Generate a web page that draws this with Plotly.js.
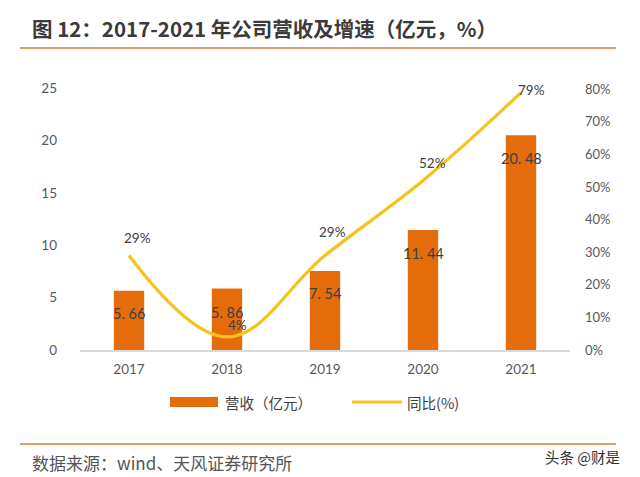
<!DOCTYPE html>
<html><head><meta charset="utf-8">
<script src="https://cdn.plot.ly/plotly-3.0.1.min.js"></script>
<style>html,body{margin:0;padding:0;background:#fff}#chart{width:640px;height:477px}</style>
</head><body><div id="chart"></div>
<script>
const years = ['2017','2018','2019','2020','2021'];
const revenue = [5.66, 5.86, 7.54, 11.44, 20.48];
const growth = [29, 4, 29, 52, 79];
const revenueLabels = ['5. 66','5. 86','7. 54','11. 44','20. 48'];
const growthLabels = ['29%','4%','29%','52%','79%'];
const leftTicks = [0,5,10,15,20,25];
const rightTicks = [0,10,20,30,40,50,60,70,80];

// label pixel offsets (style)
const revShiftY = [-23,-24,-23,-23,-23];
const grShiftX = [8,10,7,9,10];
const grShiftY = [18,12,24,18,3];

const L=80, R=570, T=88, B=350;
const px = x => (x-L)/(R-L);
const py = y => (B-y)/(B-T);

const FONT = 'Lato, "Noto Sans CJK SC", sans-serif';
const CJK = '"Noto Sans CJK SC", sans-serif';

const traces = [
  {type:'bar', x:years, y:revenue, width:0.31, marker:{color:'#E46C0A'}, hoverinfo:'none', showlegend:false},
  {type:'scatter', mode:'lines', x:years, y:growth, yaxis:'y2', line:{color:'#F6C21C', width:3.2, shape:'spline', smoothing:1.1}, hoverinfo:'none', showlegend:false}
];

const ann = [];
years.forEach((yr,i)=>{
  ann.push({x:i, y:revenue[i], xref:'x', yref:'y', text:revenueLabels[i], showarrow:false, yshift:revShiftY[i], font:{family:FONT, size:14.5, color:'#404040'}});
  ann.push({x:i, y:growth[i], xref:'x', yref:'y2', text:growthLabels[i], showarrow:false, xshift:grShiftX[i], yshift:grShiftY[i], font:{family:FONT, size:13.5, color:'#404040'}});
});
ann.push({xref:'paper', yref:'paper', x:px(30), y:py(28), xanchor:'left', yanchor:'middle', showarrow:false,
  text:'<b>图 12：2017-2021 年公司营收及增速（亿元，%）</b>', font:{family:CJK, size:20.5, color:'#3a3a3a'}});
ann.push({xref:'paper', yref:'paper', x:px(30), y:py(462), xanchor:'left', yanchor:'middle', showarrow:false,
  text:'数据来源：wind、天风证券研究所', font:{family:CJK, size:17, color:'#555'}});
ann.push({xref:'paper', yref:'paper', x:px(622), y:py(456), xanchor:'right', yanchor:'middle', showarrow:false,
  text:'头条 @财是', font:{family:CJK, size:14.5, color:'#333'}});
ann.push({xref:'paper', yref:'paper', x:px(223), y:py(402), xanchor:'left', yanchor:'middle', showarrow:false,
  text:'营收（亿元）', font:{family:CJK, size:14.5, color:'#404040'}});
ann.push({xref:'paper', yref:'paper', x:px(405), y:py(402), xanchor:'left', yanchor:'middle', showarrow:false,
  text:'同比(%)', font:{family:CJK, size:14.5, color:'#404040'}});

const shapes = [
  {type:'line', xref:'paper', yref:'paper', x0:px(20), x1:px(616), y0:py(48), y1:py(48), line:{color:'#E89A66', width:2}},
  {type:'line', xref:'paper', yref:'paper', x0:px(20), x1:px(616), y0:py(444), y1:py(444), line:{color:'#E89A66', width:2}},
  {type:'rect', xref:'paper', yref:'paper', x0:px(170), x1:px(218), y0:py(397), y1:py(407), fillcolor:'#E46C0A', line:{width:0}},
  {type:'line', xref:'paper', yref:'paper', x0:px(352), x1:px(402), y0:py(402), y1:py(402), line:{color:'#F6C21C', width:3}}
];

const layout = {
  width:640, height:477, margin:{l:L, r:640-R, t:T, b:477-B},
  paper_bgcolor:'#fff', plot_bgcolor:'#fff', showlegend:false,
  xaxis:{type:'category', range:[-0.5,4.5], autorange:false, showgrid:false, zeroline:false, showline:true, linecolor:'#d9d9d9', linewidth:1.5, ticks:'',
    tickfont:{family:FONT, size:13.5, color:'#595959'}, ticklabelstandoff:6},
  yaxis:{range:[0,25], autorange:false, tickvals:leftTicks, showgrid:false, zeroline:false, showline:false, ticks:'',
    tickfont:{family:FONT, size:13.5, color:'#595959'}, ticklabelstandoff:22},
  yaxis2:{overlaying:'y', side:'right', range:[0,80.4], autorange:false, tickvals:rightTicks, ticktext:rightTicks.map(v=>v+'%'),
    showgrid:false, zeroline:false, showline:false, ticks:'', tickfont:{family:FONT, size:13, color:'#595959'}, ticklabelstandoff:14},
  annotations:ann, shapes:shapes
};
Plotly.newPlot('chart', traces, layout, {staticPlot:true});
</script></body></html>
